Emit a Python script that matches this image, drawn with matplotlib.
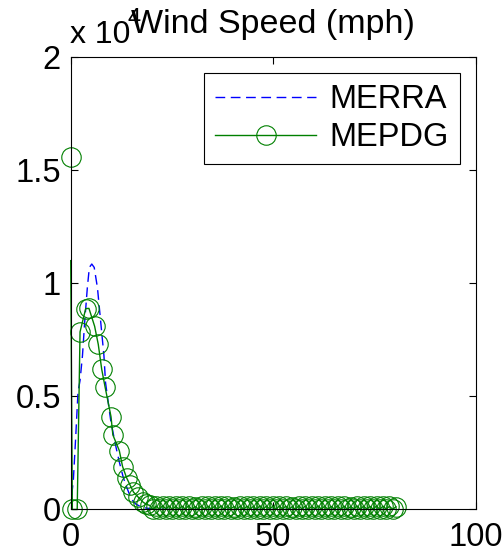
import matplotlib
matplotlib.use("Agg")
import matplotlib.pyplot as plt
from matplotlib.ticker import FuncFormatter

plt.rcParams['font.family'] = ['Liberation Sans', 'DejaVu Sans']

# --- DATA ---
merra_speed = [0, 0.2, 0.33, 0.65, 1.23, 1.8, 2.3, 2.9, 3.45, 4.1, 4.6, 5.2, 5.8,
               6.6, 7.4, 8.2, 8.6, 9.9, 11.0, 12.0, 13.0, 14.0, 15.0, 16.0, 17.0,
               18.0, 20.0, 22.0, 25.0, 30.0, 40.0, 60.0, 80.0]
merra_count = [0, 0, 770, 1300, 3200, 5200, 5700, 6800, 8300, 9800, 10700, 10850, 10700,
               9800, 8300, 6800, 5600, 3900, 2900, 2100, 1400, 900, 450, 250, 150,
               80, 30, 10, 0, 0, 0, 0, 0]

mepdg_speed = [0, 0, 0.4, 1.6, 2.3, 3.7, 4.5, 5.9, 6.8, 7.65, 8.5, 9.95, 10.4, 12.0,
               12.8, 13.8, 14.6, 15.5, 16.7, 17.9,
               18.7, 19.5, 20.3, 21.1, 21.9, 22.7, 23.5, 24.3, 25.1, 25.9, 26.7, 27.5,
               28.3, 29.1, 29.9, 30.7, 31.5, 32.3, 33.1, 33.9, 34.7, 35.5, 36.3, 37.1,
               37.9, 38.7, 39.5, 40.3, 41.1, 41.9, 42.7, 43.5, 44.3, 45.1, 45.9, 46.7,
               47.5, 48.3, 49.1, 49.9, 50.7, 51.5, 52.3, 53.1, 53.9, 54.7, 55.5, 56.3,
               57.1, 57.9, 58.7, 59.5, 60.3, 61.1, 61.9, 62.7, 63.5, 64.3, 65.1, 65.9,
               66.7, 67.5, 68.3, 69.1, 69.9, 70.7, 71.5, 72.3, 73.1, 73.9, 74.7, 75.5,
               76.3, 77.1, 77.9, 78.7, 79.5, 80.3]
mepdg_count = [15570, 11000, 0, 0, 7850, 8880, 8890, 8100, 7300, 6200, 5400, 4100, 3300, 2600,
               1900, 1400, 1100, 770, 540, 320,
               230, 180, 20, 150, 10, 170, 30, 160, 0, 140, 20, 150,
               10, 170, 0, 130, 30, 160, 0, 150, 20, 140, 10, 170,
               0, 150, 30, 130, 10, 160, 0, 150, 20, 140, 0, 170,
               10, 150, 30, 140, 0, 160, 20, 150, 10, 130, 0, 170,
               20, 150, 0, 140, 30, 160, 10, 150, 0, 140, 20, 170,
               0, 150, 10, 130, 30, 160, 0, 150, 20, 140, 10, 160,
               0, 150, 20, 140, 10, 120]

xticks = [0, 50, 100]
yticks = [0, 5000, 10000, 15000, 20000]

# --- PLOT ---
fig = plt.figure(figsize=(5.03, 5.52), dpi=100)
ax = fig.add_axes([0.1406, 0.077, 0.8052, 0.8197])

green = '#008000'
ax.plot(merra_speed, merra_count, color='#0000ff', ls=(0, (7, 4)), lw=1.0, label='MERRA')
# lone point at the top of the axis, not joined to the line
ax.plot(mepdg_speed[:1], mepdg_count[:1], 'o', color=green, mfc='none', ms=14, mew=0.8,
        clip_on=False)
ax.plot(mepdg_speed[1:], mepdg_count[1:], '-o', color=green, mfc='none', ms=14, mew=0.8,
        lw=1.0, markevery=list(range(1, len(mepdg_speed) - 1)), label='MEPDG',
        clip_on=False)

ax.set_xlim(0, 100)
ax.set_ylim(0, 20000)
ax.set_xticks(xticks)
ax.set_yticks(yticks)
ax.yaxis.set_major_formatter(FuncFormatter(lambda v, p: '%g' % (v / 1e4)))
ax.tick_params(direction='in', top=True, right=True, length=5, width=0.8,
               labelsize=23.5, pad=7)
ax.tick_params(axis='x', pad=9)
for s in ax.spines.values():
    s.set_linewidth(0.8)
    s.set_zorder(3)

ax.set_title('Wind Speed (mph)', fontsize=24.5, pad=17)
fig.text(70 / 503, 1 - 43 / 552, 'x 10', fontsize=23, va='baseline', ha='left')
fig.text(127 / 503, 1 - 25 / 552, '4', fontsize=17, va='baseline', ha='left')

leg = ax.legend(loc='upper right', bbox_to_anchor=(460 / 503, 1 - 73 / 552),
                bbox_transform=fig.transFigure, borderaxespad=0, fontsize=23.5,
                handlelength=3.1, handletextpad=0.4, borderpad=0.35, labelspacing=0.2,
                fancybox=False, framealpha=1)
leg.get_frame().set_edgecolor('black')
leg.get_frame().set_linewidth(0.8)

plt.savefig('out.png', dpi=100)
